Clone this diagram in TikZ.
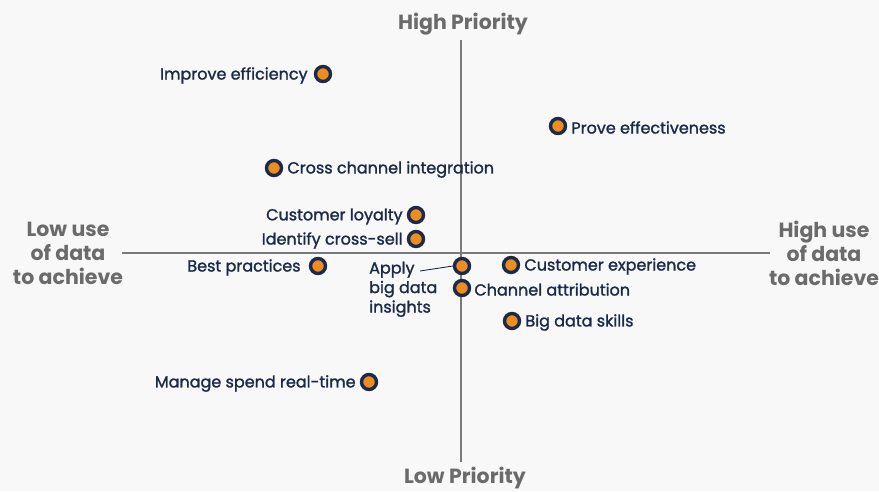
\documentclass[tikz,border=0pt]{standalone}
\usepackage{fontspec}
\setmainfont{Poppins}
\newfontfamily\itemfont{Poppins}[FakeBold=1.5]
\usetikzlibrary{positioning}
\definecolor{navy}{HTML}{1B2A4A}
\definecolor{dotorange}{HTML}{EE8D1F}
\definecolor{axisgray}{HTML}{6B6B6B}
\definecolor{bggray}{HTML}{F8F8F8}
\tikzset{
x=1pt, y=-1pt, % one unit is one pixel of the layout
dot/.style={circle, fill=dotorange, draw=navy, line width=3.4pt, minimum size=15pt, inner sep=0pt}, % the plotted points
item/.style={text=navy, font=\itemfont\fontsize{16}{19.5}\selectfont, inner sep=1pt, yshift=-1.5pt}, % text next to a point
axistext/.style={text=axisgray, font=\fontsize{20.5}{24}\selectfont\bfseries, align=center, inner sep=0pt}, % ends of the axes
axisline/.style={draw=axisgray!90, line width=1.1pt},
}
\begin{document}
\begin{tikzpicture}
    \fill[bggray] (0,0) rectangle (879,491);
    \useasboundingbox (0,0) rectangle (879,491);
    % axes
    \node[axistext] (top) at (463,24.5) {High Priority};
    \node[axistext] (bottom) at (465,478) {Low Priority};
    \node[axistext] (left) at (68,253.5) {Low use\\of data\\to achieve};
    \node[axistext] (right) at (824,253.5) {High use\\of data\\to achieve};
    \coordinate (vt) at (461,40);
    \coordinate (vb) at (461,462);
    \coordinate (hl) at (122,253);
    \coordinate (hr) at (770,253);
    \draw[axisline] (vt) -- (vb);
    \draw[axisline] (hl) -- (hr);
    % points
    \node[dot] (p1) at (323,74) {};
    \node[dot] (p2) at (558,126) {};
    \node[dot] (p3) at (274,168) {};
    \node[dot] (p4) at (416,215) {};
    \node[dot] (p5) at (416,239) {};
    \node[dot] (p6) at (318,266) {};
    \node[dot] (p7) at (462,266) {};
    \node[dot] (p8) at (511,265) {};
    \node[dot] (p9) at (462,288) {};
    \node[dot] (p10) at (512,321) {};
    \node[dot] (p11) at (369,382) {};
    % labels
    \node[item, left=5pt of p1] (l1) {Improve efficiency};
    \node[item, right=3pt of p2] (l2) {Prove effectiveness};
    \node[item, right=3pt of p3] (l3) {Cross channel integration};
    \node[item, left=3pt of p4] (l4) {Customer loyalty};
    \node[item, left=3pt of p5] (l5) {Identify cross-sell};
    \node[item, left=7pt of p6] (l6) {Best practices};
    \node[item, align=left, anchor=north west] (l7) at (368,259) {Apply\\big data\\insights};
    \node[item, right=3pt of p8] (l8) {Customer experience};
    \node[item, right=2pt of p9] (l9) {Channel attribution};
    \node[item, right=3pt of p10] (l10) {Big data skills};
    \node[item, left=3pt of p11] (l11) {Manage spend real-time};
    \coordinate (lk) at (420,271);
    \draw[navy, line width=0.9pt] (lk) -- (p7.west);
\end{tikzpicture}
\end{document}
